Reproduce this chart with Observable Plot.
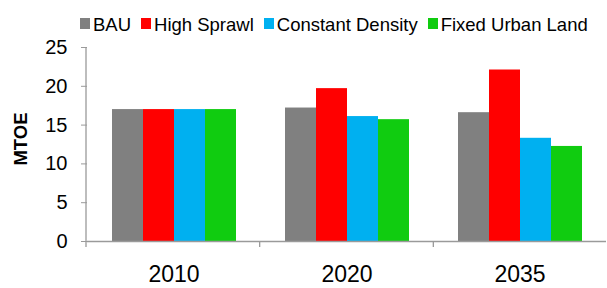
<!DOCTYPE html>
<html><head><meta charset="utf-8">
<script src="https://cdn.jsdelivr.net/npm/d3@7"></script>
<script src="https://cdn.jsdelivr.net/npm/@observablehq/plot@0.6"></script>
<style>
body{margin:0;background:#fff;}
#wrap{position:relative;width:607px;height:288px;font-family:"Liberation Sans",Arial,sans-serif;overflow:hidden;}
#legend{position:absolute;left:80px;top:13.6px;display:flex;align-items:center;font-size:18.5px;line-height:22px;color:#000;white-space:nowrap;}
#legend .item{display:flex;align-items:center;margin-right:10px;}
#legend .sw{width:10px;height:11px;margin-right:3px;position:relative;top:-1px;}
#ylab{position:absolute;left:21px;top:139px;transform:translate(-50%,-50%) rotate(-90deg);font-weight:bold;font-size:18.5px;white-space:nowrap;color:#000;}
#chart{position:absolute;left:0;top:0;}
</style>
</head><body>
<div id="wrap"><div id="chart"></div><div id="legend"></div><div id="ylab"></div></div>
<script>
const years = ["2010", "2020", "2035"];
const scenarios = ["BAU", "High Sprawl", "Constant Density", "Fixed Urban Land"];
const colors = ["#808080", "#FF0000", "#00B0F0", "#10CC10"];
const bau = [17.0, 17.2, 16.6];
const highSprawl = [17.0, 19.7, 22.1];
const constantDensity = [17.0, 16.1, 13.3];
const fixedUrbanLand = [17.0, 15.7, 12.25];
const yTicks = [0, 5, 10, 15, 20, 25];
const yLabel = "MTOE";

const series = [bau, highSprawl, constantDensity, fixedUrbanLand];
const data = [];
years.forEach((yr, i) => scenarios.forEach((s, j) => data.push({year: yr, scenario: s, value: series[j][i]})));

const chart = Plot.plot({
  width: 607,
  height: 288,
  marginLeft: 86,
  marginRight: 0,
  marginTop: 47,
  marginBottom: 47,
  style: {fontFamily: '"Liberation Sans", Arial, sans-serif', color: "#000", background: "transparent"},
  fx: {domain: years, paddingInner: 0, paddingOuter: 0, axis: "bottom", tickSize: 0, tickPadding: 24, label: null},
  x: {domain: scenarios, paddingInner: 0, paddingOuter: 0.74, axis: null},
  y: {domain: [0, 25], ticks: yTicks, tickSize: 6, tickPadding: 14, label: null, axis: "left"},
  color: {domain: scenarios, range: colors},
  marks: [
    Plot.barY(data, {fx: "year", x: "scenario", y: "value", fill: "scenario", inset: 0}),
    Plot.ruleY([0], {stroke: "#9a9a9a", strokeWidth: 1.3})
  ]
});
document.getElementById("chart").appendChild(chart);

const svg = d3.select(chart);
svg.selectAll('[aria-label^="y-axis"] text').style("font-size", "20px").attr("fill", "#000");
svg.selectAll('[aria-label^="y-axis"] line, [aria-label^="y-axis"] path').attr("stroke", "#9a9a9a");
svg.selectAll('[aria-label^="fx-axis"] text').style("font-size", "23px").attr("fill", "#000");

const ys = chart.scale("y");
const fxs = chart.scale("fx");
const fxScale = d3.scaleBand().domain(fxs.domain).range(fxs.range).paddingInner(fxs.paddingInner ?? 0).paddingOuter(fxs.paddingOuter ?? 0);
const yScale = d3.scaleLinear().domain(ys.domain).range(ys.range);
const g = svg.append("g").attr("stroke", "#9a9a9a").attr("stroke-width", 1.3);
g.append("line").attr("x1", fxs.range[0]).attr("x2", fxs.range[0]).attr("y1", yScale(0)).attr("y2", yScale(25));
years.forEach(yr => {
  const x = fxScale(yr);
  g.append("line").attr("x1", x).attr("x2", x).attr("y1", yScale(0)).attr("y2", yScale(0) + 6);
});

const legend = d3.select("#legend");
scenarios.forEach((s, i) => {
  const it = legend.append("div").attr("class", "item");
  it.append("div").attr("class", "sw").style("background", colors[i]);
  it.append("span").text(s);
});
document.getElementById("ylab").textContent = yLabel;
</script>
</body></html>
